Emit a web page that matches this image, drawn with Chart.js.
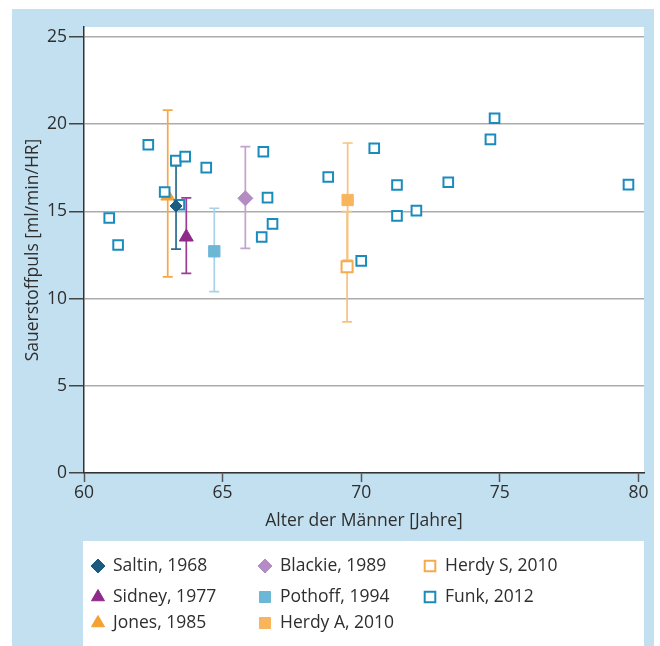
<!DOCTYPE html>
<html><head><meta charset="utf-8">
<script src="https://cdn.jsdelivr.net/npm/chart.js@4/dist/chart.umd.min.js"></script>
<style>html,body{margin:0;padding:0;background:#fff}canvas{display:block}</style>
</head><body><canvas id="c" width="660" height="646"></canvas>
<script>
// ---- data ----
const xTicks = [60, 65, 70, 75, 80];
const yTicks = [0, 5, 10, 15, 20, 25];
const xTitle = 'Alter der Männer [Jahre]';
const yTitle = 'Sauerstoffpuls [ml/min/HR]';

const saltinX = [63.32], saltinY = [15.31], saltinLow = [12.84], saltinHigh = [17.62];
const sidneyX = [63.69], sidneyY = [13.53], sidneyLow = [11.45], sidneyHigh = [15.77];
const jonesX = [63.02], jonesY = [15.88], jonesLow = [11.24], jonesHigh = [20.8];
const blackieX = [65.82], blackieY = [15.75], blackieLow = [12.88], blackieHigh = [18.71];
const pothoffX = [64.70], pothoffY = [12.71], pothoffLow = [10.40], pothoffHigh = [15.18];
const herdyAX = [69.51], herdyAY = [15.65], herdyALow = [12.21], herdyAHigh = [18.92];
const herdySX = [69.49], herdySY = [11.83], herdySLow = [8.66], herdySHigh = [14.98];
const funkX = [62.32, 63.31, 63.65, 64.41, 62.91, 63.44, 60.91, 61.23, 66.47, 66.62, 66.80,
               66.41, 70.47, 68.81, 71.29, 73.14, 71.29, 71.99, 70.00, 74.81, 74.66, 79.64];
const funkY = [18.82, 17.91, 18.14, 17.51, 16.11, 15.38, 14.62, 13.07, 18.42, 15.79, 14.28,
               13.53, 18.62, 16.97, 16.51, 16.67, 14.74, 15.04, 12.16, 20.34, 19.13, 16.53];

const pts = (xs, ys) => xs.map((x, i) => ({x: x, y: ys[i]}));

const BLUE_BG = '#c3e0f0';
const FONT_SIZE = 17.5;
const TEXT = '#2e2e2e';

const datasets = [
  {label: 'Saltin, 1968', data: pts(saltinX, saltinY), low: saltinLow, high: saltinHigh,
   pointStyle: 'rectRot', pointRadius: 6, backgroundColor: '#1d5a80', borderColor: '#1d5a80', borderWidth: 1,
   errColor: '#2b6a8e', order: 0, legendRadius: 7},
  {label: 'Sidney, 1977', data: pts(sidneyX, sidneyY), low: sidneyLow, high: sidneyHigh,
   pointStyle: 'triangle', pointRadius: 8, backgroundColor: '#8f2a8b', borderColor: '#8f2a8b', borderWidth: 1,
   errColor: '#9b3c97', order: 0, legendRadius: 7.5},
  {label: 'Jones, 1985', data: pts(jonesX, jonesY), low: jonesLow, high: jonesHigh,
   pointStyle: 'triangle', pointRadius: 8, backgroundColor: '#f5a030', borderColor: '#f5a030', borderWidth: 1,
   errColor: '#f6a846', order: 2, legendRadius: 7.5},
  {label: 'Blackie, 1989', data: pts(blackieX, blackieY), low: blackieLow, high: blackieHigh,
   pointStyle: 'rectRot', pointRadius: 7.5, backgroundColor: '#b48cc3', borderColor: '#b48cc3', borderWidth: 1,
   errColor: '#c2a3d0', order: 0, legendRadius: 7},
  {label: 'Pothoff, 1994', data: pts(pothoffX, pothoffY), low: pothoffLow, high: pothoffHigh,
   pointStyle: 'rect', pointRadius: 8, backgroundColor: '#6cb7d6', borderColor: '#6cb7d6', borderWidth: 1,
   errColor: '#a6d3e7', order: 0, legendRadius: 7.8},
  {label: 'Herdy A, 2010', data: pts(herdyAX, herdyAY), low: herdyALow, high: herdyAHigh,
   pointStyle: 'rect', pointRadius: 8, backgroundColor: '#f9b55e', borderColor: '#f9b55e', borderWidth: 1,
   errColor: '#f8c27e', order: 0, legendRadius: 7.8},
  {label: 'Herdy S, 2010', data: pts(herdySX, herdySY), low: herdySLow, high: herdySHigh,
   pointStyle: 'rect', pointRadius: 7.8, backgroundColor: '#ffffff', borderColor: '#f5aa50', borderWidth: 2,
   errColor: '#f8c27e', order: 0, legendRadius: 7.5},
  {label: 'Funk, 2012', data: pts(funkX, funkY),
   pointStyle: 'rect', pointRadius: 6.8, backgroundColor: '#ffffff', borderColor: '#1a8bbd', borderWidth: 2,
   order: 1, legendRadius: 7.5}
];
datasets.forEach(d => { d.pointHoverRadius = d.pointRadius; d.showLine = false; });

// ---- plugins ----
const bgPlugin = {
  id: 'bg',
  beforeDraw(chart) {
    const ctx = chart.ctx, a = chart.chartArea;
    ctx.save();
    ctx.fillStyle = '#ffffff';
    ctx.fillRect(0, 0, chart.width, chart.height);
    ctx.fillStyle = BLUE_BG;
    ctx.fillRect(12, 9, 642, chart.height - 9);
    ctx.fillStyle = '#ffffff';
    ctx.fillRect(a.left, a.top, a.right - a.left, a.bottom - a.top);
    ctx.fillRect(83, 541, a.right - 83, chart.height - 541);
    ctx.restore();
  }
};

const errPlugin = {
  id: 'err',
  beforeDatasetsDraw(chart) {
    const ctx = chart.ctx, xs = chart.scales.x, ys = chart.scales.y;
    ctx.save();
    chart.data.datasets.forEach(d => {
      if (!d.low) return;
      d.data.forEach((p, i) => {
        const px = xs.getPixelForValue(p.x);
        const y1 = ys.getPixelForValue(d.low[i]);
        const y2 = ys.getPixelForValue(d.high[i]);
        ctx.strokeStyle = d.errColor;
        ctx.lineWidth = 1.7;
        ctx.beginPath();
        ctx.moveTo(px, y1); ctx.lineTo(px, y2);
        ctx.moveTo(px - 5, y1); ctx.lineTo(px + 5, y1);
        ctx.moveTo(px - 5, y2); ctx.lineTo(px + 5, y2);
        ctx.stroke();
      });
    });
    ctx.restore();
  }
};

const legendPlugin = {
  id: 'customLegend',
  afterDraw(chart) {
    const ctx = chart.ctx;
    const colX = [98, 265, 430];
    const rowY = [566, 597, 623];
    const textDx = 15;
    ctx.save();
    ctx.font = FONT_SIZE + "px 'Open Sans', sans-serif";
    ctx.textBaseline = 'middle';
    ctx.textAlign = 'left';
    chart.data.datasets.forEach((d, i) => {
      const col = Math.floor(i / 3), row = i % 3;
      const cx = colX[col], cy = rowY[row];
      ctx.fillStyle = d.backgroundColor;
      ctx.strokeStyle = d.borderColor;
      ctx.lineWidth = d.borderWidth;
      Chart.helpers.drawPoint(ctx, {pointStyle: d.pointStyle, radius: d.legendRadius, rotation: 0,
        borderWidth: d.borderWidth}, cx, cy);
      ctx.fillStyle = TEXT;
      ctx.fillText(d.label, cx + textDx, cy);
    });
    ctx.restore();
  }
};

Chart.defaults.font.family = "'Open Sans', sans-serif";
Chart.defaults.font.size = FONT_SIZE;
Chart.defaults.color = TEXT;

new Chart(document.getElementById('c'), {
  type: 'scatter',
  data: {datasets: datasets},
  options: {
    responsive: false,
    animation: false,
    events: [],
    layout: {padding: {left: 12, right: 16, top: 27, bottom: 105}},
    plugins: {legend: {display: false}, tooltip: {enabled: false}},
    scales: {
      x: {
        type: 'linear', min: 60, max: 80.2,
        afterBuildTicks: s => { s.ticks = xTicks.map(v => ({value: v})); },
        afterFit: s => { s.height = 68; },
        ticks: {padding: 1, color: TEXT, font: {size: FONT_SIZE}},
        grid: {display: true, drawOnChartArea: false, tickLength: 9, tickColor: '#555555', tickWidth: 1.5},
        border: {display: true, color: '#333333', width: 1.5},
        title: {display: true, text: xTitle, color: TEXT, font: {size: FONT_SIZE}, padding: {top: 0, bottom: 9}}
      },
      y: {
        type: 'linear', min: 0, max: 25.57,
        afterBuildTicks: s => { s.ticks = yTicks.map(v => ({value: v})); },
        afterFit: s => { s.width = 72; },
        ticks: {padding: 2, color: TEXT, font: {size: FONT_SIZE}},
        grid: {display: true, drawOnChartArea: true, color: '#ababab', lineWidth: 1.5,
               tickLength: 15, tickColor: '#444444', tickWidth: 1.5},
        border: {display: true, color: '#333333', width: 1.5},
        title: {display: true, text: yTitle, color: TEXT, font: {size: FONT_SIZE}, padding: {top: 11, bottom: 0}}
      }
    }
  },
  plugins: [bgPlugin, errPlugin, legendPlugin]
});
</script>
</body></html>
